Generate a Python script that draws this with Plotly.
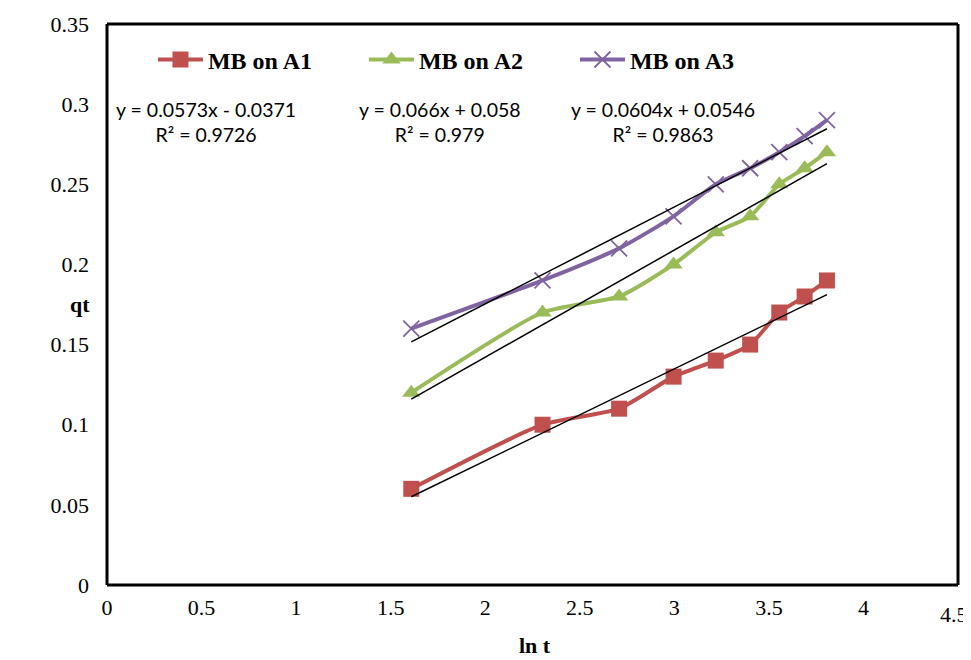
import numpy as np
import plotly.graph_objects as go

ln_t = [1.609, 2.303, 2.708, 2.996, 3.219, 3.401, 3.555, 3.689, 3.807]
qt_a1 = [0.06, 0.10, 0.11, 0.13, 0.14, 0.15, 0.17, 0.18, 0.19]
qt_a2 = [0.12, 0.17, 0.18, 0.20, 0.22, 0.23, 0.25, 0.26, 0.27]
qt_a3 = [0.16, 0.19, 0.21, 0.23, 0.25, 0.26, 0.27, 0.28, 0.29]
names = ["MB on A1", "MB on A2", "MB on A3"]
eq_texts = ["y = 0.0573x - 0.0371<br>R² = 0.9726",
            "y = 0.066x + 0.058<br>R² = 0.979",
            "y = 0.0604x + 0.0546<br>R² = 0.9863"]
x_ticks = [0, 0.5, 1, 1.5, 2, 2.5, 3, 3.5, 4, 4.5]
y_ticks = [0, 0.05, 0.1, 0.15, 0.2, 0.25, 0.3, 0.35]

colors = ["#C0504D", "#9BBB59", "#8064A2"]
symbols = ["square", "triangle-up", "x-thin"]

fig = go.Figure()
series = [qt_a1, qt_a2, qt_a3]
for ys, name, col, sym in zip(series, names, colors, symbols):
    if sym == "x-thin":
        marker = dict(symbol=sym, size=16, color=col, line=dict(width=1.8, color=col))
    else:
        marker = dict(symbol=sym, size=16, color=col)
    fig.add_trace(go.Scatter(x=ln_t, y=ys, mode="lines+markers", name=name,
                             line=dict(color=col, width=4, shape="spline", smoothing=0.6),
                             marker=marker))

# linear trendlines fitted from the data
for ys in series:
    k, b = np.polyfit(ln_t, ys, 1)
    xs = [min(ln_t), max(ln_t)]
    fig.add_trace(go.Scatter(x=xs, y=[k * v + b for v in xs], mode="lines",
                             line=dict(color="black", width=1.5), showlegend=False,
                             hoverinfo="skip"))

ann_x = [0.524, 1.762, 2.94]
for tx, ax in zip(eq_texts, ann_x):
    fig.add_annotation(x=ax, y=0.289, text=tx, showarrow=False, align="center",
                       font=dict(family="Lato", size=19.5, color="black"))

# axis titles
fig.add_annotation(xref="paper", yref="paper", x=-0.032, y=0.5, text="<b>qt</b>",
                   showarrow=False, xanchor="center", yanchor="middle",
                   font=dict(family="Liberation Serif", size=22, color="black"))
fig.add_annotation(xref="paper", yref="paper", x=0.503, y=-0.107, text="<b>ln t</b>",
                   showarrow=False, xanchor="center", yanchor="middle",
                   font=dict(family="Liberation Serif", size=22, color="black"))

# last x tick label, kept inside the page like the reference
last_tick = x_ticks[-1]
fig.add_annotation(x=last_tick, yref="paper", y=0, yanchor="top", yshift=-15, xshift=-4,
                   text=f"{last_tick:g}", showarrow=False,
                   font=dict(family="Liberation Serif", size=22, color="black"))

# plot-area frame, drawn as four edges
for x0, x1, y0, y1 in [(0, 1, 0, 0), (0, 1, 1, 1), (0, 0, 0, 1), (1, 1, 0, 1)]:
    fig.add_shape(type="line", xref="paper", yref="paper", x0=x0, x1=x1, y0=y0, y1=y1,
                  line=dict(color="black", width=3), layer="above")

# the page body has an 8px margin: size the figure so the plot area lands where it should
fig.update_layout(
    width=963, height=652,
    margin=dict(l=99, r=13, t=16, b=75, autoexpand=False),
    paper_bgcolor="white", plot_bgcolor="white",
    font=dict(family="Liberation Serif", size=22, color="black"),
    showlegend=True,
    legend=dict(orientation="h", x=0.054, y=0.936, xanchor="left", yanchor="middle",
                font=dict(family="Liberation Serif", size=24, color="black", weight="bold"),
                itemwidth=45, entrywidth=151, entrywidthmode="pixels",
                bgcolor="rgba(0,0,0,0)", tracegroupgap=0),
    xaxis=dict(range=[0, 4.5], tickvals=x_ticks[:-1], ticktext=[f"{v:g}" for v in x_ticks[:-1]],
               showgrid=False, zeroline=False, showline=False,
               ticks="", ticklabelstandoff=7, automargin=False),
    yaxis=dict(range=[0, 0.35], tickvals=y_ticks, ticktext=[f"{v:g}" for v in y_ticks],
               showgrid=False, zeroline=False, showline=False,
               ticks="", ticklabelstandoff=17, automargin=False),
)

fig.write_html("out.html")
